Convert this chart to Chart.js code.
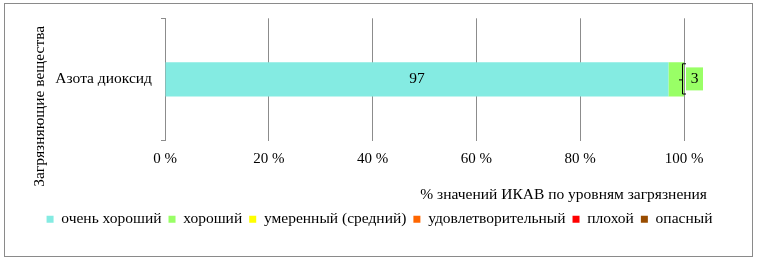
<!DOCTYPE html>
<html>
<head>
<meta charset="utf-8">
<script src="https://cdn.jsdelivr.net/npm/chart.js@4/dist/chart.umd.min.js"></script>
<style>
  html, body { margin: 0; padding: 0; background: #fff; }
  #wrap { position: relative; width: 757px; height: 261px; }
</style>
</head>
<body>
<div id="wrap"><canvas id="chart" width="757" height="261"></canvas></div>
<script>
// категории и значения (% значений ИКАВ)
const categories = ['Азота диоксид']
const levels = ['очень хороший', 'хороший', 'умеренный (средний)', 'удовлетворительный', 'плохой', 'опасный']
const levelColors = ['#84ebe2', '#99ff66', '#ffff00', '#ff6600', '#ff0000', '#994c00']
const veryGood = [97]
const good = [3]
const moderate = [0]
const satisfactory = [0]
const bad = [0]
const dangerous = [0]
const xTicks = [0, 20, 40, 60, 80, 100]

const xTitle = '% значений ИКАВ по уровням загрязнения'
const yTitle = 'Загрязняющие вещества'

const serif = '"Liberation Serif", "Times New Roman", serif'
const gridGray = '#8c8c8c'

const seriesValues = [veryGood, good, moderate, satisfactory, bad, dangerous]

// рамка вокруг диаграммы
const frame = {
  id: 'frame',
  beforeDraw(chart) {
    const ctx = chart.ctx
    ctx.save()
    ctx.fillStyle = '#fff'
    ctx.fillRect(0, 0, chart.width, chart.height)
    ctx.strokeStyle = '#8a8a8a'
    ctx.lineWidth = 1
    ctx.strokeRect(4.5, 3.5, 748, 253)
    ctx.restore()
  },
  // легенда по центру всей рамки, а не области графика
  afterLayout(chart) {
    if (chart.legend) {
      chart.legend.left = 2
      chart.legend.right = chart.width
    }
  },
}

// подписи осей (смещены как в исходнике)
const axisTitles = {
  id: 'axisTitles',
  afterDraw(chart) {
    const { ctx, chartArea } = chart
    ctx.save()
    ctx.fillStyle = '#000'
    ctx.font = '15.5px ' + serif
    ctx.textBaseline = 'middle'
    ctx.textAlign = 'right'
    ctx.fillText(xTitle, chartArea.right + 23, chartArea.bottom + 54)

    ctx.translate(40, chartArea.top + 88)
    ctx.rotate(-Math.PI / 2)
    ctx.textAlign = 'center'
    ctx.fillText(yTitle, 0, 0)
    ctx.restore()
  },
}

// подписи данных
const dataLabels = {
  id: 'dataLabels',
  afterDatasetsDraw(chart) {
    const ctx = chart.ctx
    ctx.save()
    ctx.font = '15.5px ' + serif
    ctx.fillStyle = '#000'
    ctx.textAlign = 'center'
    ctx.textBaseline = 'middle'

    chart.data.datasets.forEach((ds, i) => {
      const meta = chart.getDatasetMeta(i)
      meta.data.forEach((bar, j) => {
        const v = ds.data[j]
        if (!v) return
        if (i === 0) {
          ctx.fillText(String(v), (bar.base + bar.x) / 2, bar.y)
        } else {
          // выноска справа от столбца
          const bx = bar.x - 1
          const top = bar.y - bar.height / 2 + 1
          const bottom = bar.y + bar.height / 2 - 3
          ctx.fillStyle = levelColors[i]
          ctx.fillRect(bx + 3, bar.y - 12, 17, 23)
          ctx.strokeStyle = '#000'
          ctx.lineWidth = 1
          ctx.beginPath()
          ctx.moveTo(bx + 3, top + 0.5)
          ctx.lineTo(bx - 0.5, top + 0.5)
          ctx.lineTo(bx - 0.5, bottom + 0.5)
          ctx.lineTo(bx + 3, bottom + 0.5)
          ctx.moveTo(bx - 0.5, bar.y + 0.5)
          ctx.lineTo(bx - 4, bar.y + 0.5)
          ctx.stroke()
          ctx.fillStyle = '#000'
          ctx.fillText(String(v), bx + 11.5, bar.y)
        }
      })
    })
    ctx.restore()
  },
}

new Chart(document.getElementById('chart'), {
  type: 'bar',
  data: {
    labels: categories,
    datasets: levels.map((name, i) => ({
      label: name,
      data: seriesValues[i],
      backgroundColor: levelColors[i],
      borderWidth: 0,
      barPercentage: 0.28,
      categoryPercentage: 1,
    })),
  },
  options: {
    indexAxis: 'y',
    responsive: false,
    animation: false,
    layout: { padding: { left: 0, top: 16, right: 73, bottom: 24 } },
    scales: {
      x: {
        stacked: true,
        min: 0,
        max: 100,
        afterBuildTicks(scale) {
          scale.ticks = xTicks.map(v => ({ value: v }))
        },
        afterFit(scale) {
          scale.height = 64
        },
        border: { display: false },
        grid: { color: gridGray, drawTicks: false },
        ticks: {
          padding: 10,
          color: '#000',
          font: { family: serif, size: 15 },
          callback: v => v + ' %',
        },
      },
      y: {
        stacked: true,
        afterFit(scale) {
          scale.width = 165
        },
        border: { display: true, color: gridGray },
        grid: { drawOnChartArea: false, color: gridGray, tickLength: 4, offset: true },
        ticks: {
          padding: 9,
          color: '#000',
          font: { family: serif, size: 15.5 },
        },
      },
    },
    plugins: {
      legend: {
        position: 'bottom',
        labels: {
          boxWidth: 7,
          boxHeight: 7,
          padding: 7,
          color: '#000',
          font: { family: serif, size: 15.5 },
        },
      },
      tooltip: { enabled: false },
    },
  },
  plugins: [frame, axisTitles, dataLabels],
})
</script>
</body>
</html>
